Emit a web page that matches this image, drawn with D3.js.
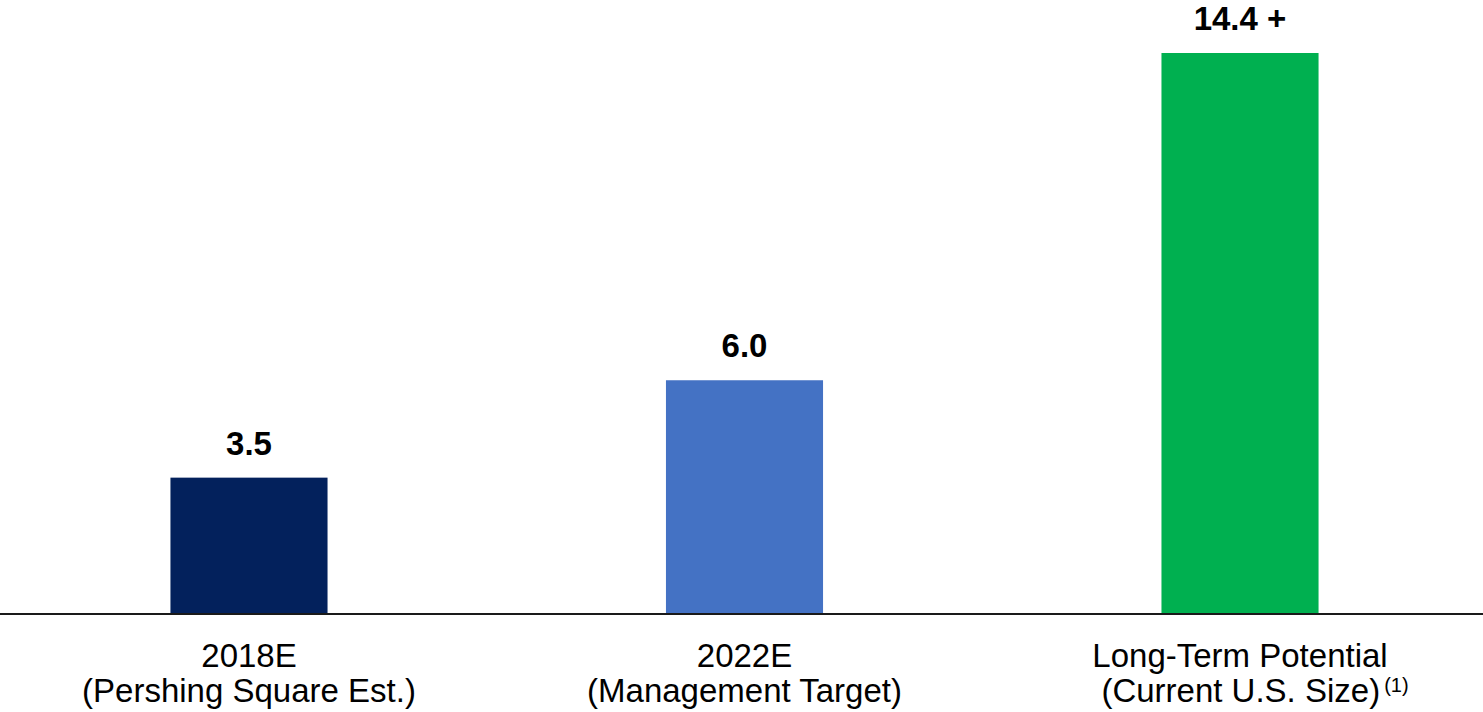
<!DOCTYPE html>
<html>
<head>
<meta charset="utf-8">
<script src="https://cdn.jsdelivr.net/npm/d3@7"></script>
<style>
  html, body { margin: 0; padding: 0; background: #fff; }
  svg { display: block; font-family: "Liberation Sans", Arial, sans-serif; }
</style>
</head>
<body>
<svg id="chart" width="1483" height="712"></svg>
<script>
const categories = ["2018E", "2022E", "Long-Term Potential"];
const subLabels = ["(Pershing Square Est.)", "(Management Target)", "(Current U.S. Size)"];
const footnotes = ["", "", "(1)"];
const values = [3.5, 6.0, 14.4];
const valueLabels = ["3.5", "6.0", "14.4 +"];
const colors = ["#03215C", "#4472C4", "#00B050"];

const W = 1483, H = 712;
const baseY = 614;
const svg = d3.select("#chart");

const x = d3.scaleBand()
  .domain(categories)
  .range([0, 1489])
  .paddingInner(0.683)
  .paddingOuter(0.344);

const y = d3.scaleLinear()
  .domain([0, 14.4])
  .range([baseY, 53]);

const data = categories.map((c, i) => ({
  cat: c, sub: subLabels[i], fn: footnotes[i], v: values[i], lab: valueLabels[i], col: colors[i]
}));

svg.selectAll("rect.bar").data(data).enter().append("rect")
  .attr("class", "bar")
  .attr("x", d => x(d.cat))
  .attr("width", x.bandwidth())
  .attr("y", d => y(d.v))
  .attr("height", d => y(0) - y(d.v))
  .attr("fill", d => d.col);

svg.selectAll("text.val").data(data).enter().append("text")
  .attr("class", "val")
  .attr("x", d => x(d.cat) + x.bandwidth() / 2)
  .attr("y", d => y(d.v) - 23)
  .attr("text-anchor", "middle")
  .attr("font-size", 33)
  .attr("font-weight", "bold")
  .attr("fill", "#000")
  .text(d => d.lab);

// baseline axis
svg.append("line")
  .attr("x1", 0).attr("x2", W)
  .attr("y1", y(0)).attr("y2", y(0))
  .attr("stroke", "#1a1a1a")
  .attr("stroke-width", 2);

const lab = svg.selectAll("g.cat").data(data).enter().append("g")
  .attr("class", "cat")
  .attr("transform", d => `translate(${x(d.cat) + x.bandwidth() / 2},0)`);

lab.append("text")
  .attr("y", 667)
  .attr("text-anchor", "middle")
  .attr("font-size", 33)
  .attr("fill", "#000")
  .text(d => d.cat);

const l2 = lab.append("text")
  .attr("y", 702)
  .attr("dx", d => d.fn ? 15 : 0)
  .attr("text-anchor", "middle")
  .attr("font-size", 33)
  .attr("fill", "#000");
l2.append("tspan").text(d => d.sub);
l2.filter(d => d.fn).append("tspan")
  .attr("dx", 4)
  .attr("dy", -10)
  .attr("font-size", 20)
  .text(d => d.fn);
</script>
</body>
</html>
